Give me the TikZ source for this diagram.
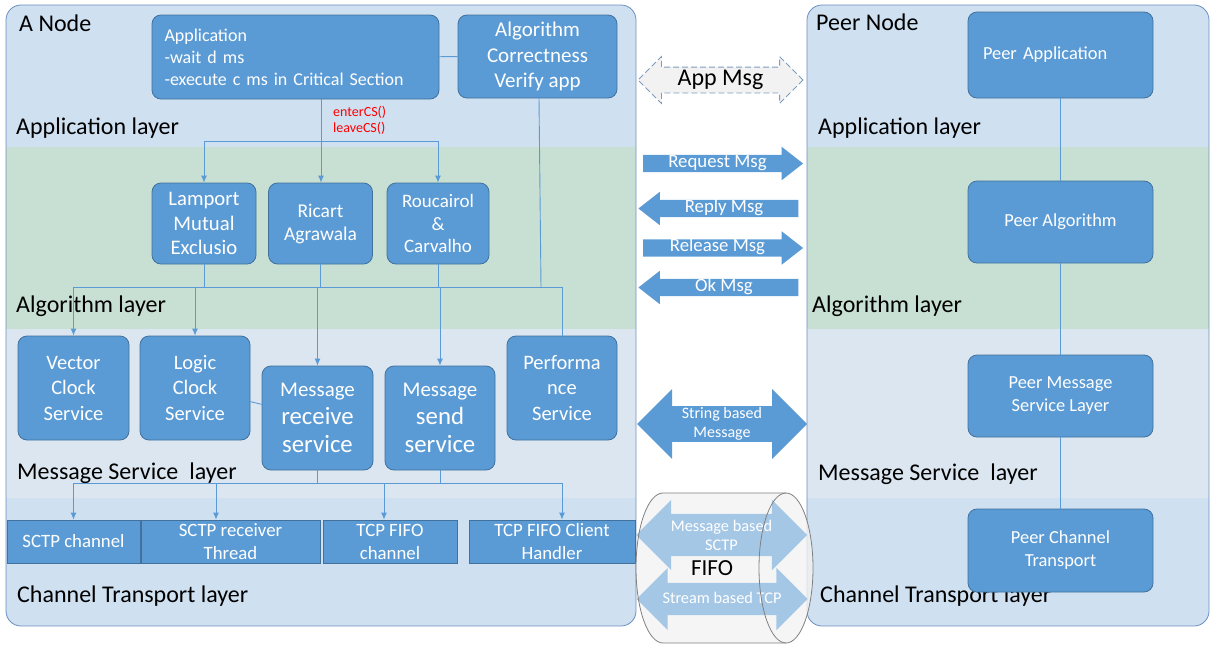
\documentclass[tikz,border=0pt]{standalone}
\usepackage{fontspec}
\setmainfont{Carlito}
\usetikzlibrary{arrows.meta}
\usetikzlibrary{shapes.arrows}

\definecolor{boxblue}{HTML}{5B9BD5}
\definecolor{boxline}{HTML}{41719C}
\definecolor{nodeline}{HTML}{6B8FC0}
\definecolor{bandapp}{HTML}{CFE0F1}
\definecolor{bandalg}{HTML}{C8E0D3}
\definecolor{bandmsg}{HTML}{DCE6F0}
\definecolor{paleblue}{HTML}{9DC3E6}
\definecolor{appgrey}{HTML}{F2F2F2}
\definecolor{dashblue}{HTML}{7F9CC0}
\definecolor{canline}{HTML}{808080}
\newcommand\fs[2]{\fontsize{#1}{#2}\selectfont}

\tikzset{
  box/.style={draw=boxline,fill=boxblue,rounded corners=9pt,text=white,align=center,inner sep=0pt,line width=0.8pt},
  chan/.style={draw=boxline,fill=boxblue,text=white,align=center,inner sep=0pt,line width=0.8pt,font=\fs{18.8}{23}},
  link/.style={draw=boxblue,line width=0.9pt},
  feed/.style={link,-{Latex[length=7pt,width=6pt]}},
  layer/.style={anchor=west,inner sep=0pt,font=\fs{24}{28}},
  msgarrow/.style={single arrow,fill=boxblue,text=white,font=\fs{18.8}{22},text height=10pt,text depth=3pt,
    inner ysep=2pt,inner xsep=0pt,single arrow head extend=8pt,single arrow tip angle=76,
    minimum height=160pt,minimum width=33pt},
  pipe/.style={double arrow,fill=paleblue,fill opacity=0.9,text opacity=1,text=white,align=center,
    inner xsep=0pt,double arrow tip angle=90,font=\fs{16.3}{19}},
}

\begin{document}
\begin{tikzpicture}[x=1pt,y=-1pt]
\useasboundingbox (0,0) rectangle (1210,645);
% layer bands of both nodes
\foreach \xa/\xb in {6/636,807/1209}{
  \begin{scope}
    \clip[rounded corners=15pt] (\xa,5) rectangle (\xb,626);
    \fill[bandapp] (\xa,5) rectangle (\xb,147);
    \fill[bandalg] (\xa,147) rectangle (\xb,329);
    \fill[bandmsg] (\xa,329) rectangle (\xb,498);
    \fill[bandapp] (\xa,498) rectangle (\xb,626);
  \end{scope}
  \draw[nodeline,line width=0.8pt,rounded corners=15pt] (\xa,5) rectangle (\xb,626);
}

\node[layer] (anode) at (19,23) {A Node};
\node[layer] (applayer) at (16,128) {Application layer};
\node[layer] (alglayer) at (16,306) {Algorithm layer};
\node[layer] (msglayer) at (17,473) {Message Service\ \ layer};
\node[layer] (chlayer) at (17,596) {Channel Transport layer};

\node[layer] (peernode) at (816,22) {Peer Node};
\node[layer] (papplayer) at (818,128) {Application layer};
\node[layer] (palglayer) at (812,306) {Algorithm layer};
\node[layer] (pmsglayer) at (818,474) {Message Service\ \ layer};
\node[layer] (pchlayer) at (820,596) {Channel Transport layer};

% A Node
\node[box,minimum width=287pt,minimum height=84pt,text width=262pt,align=left,font=\fs{18}{22}] (app) at (295.5,57)
  {Application\\-wait d ms\\-execute c ms in Critical Section};
\node[box,minimum width=159pt,minimum height=83pt,font=\fs{21}{25.5}] (verify) at (537.5,56.5)
  {Algorithm\\Correctness\\Verify app};
\node[anchor=west,inner sep=0pt,text=red,align=left,font=\fs{14}{16}] (cs) at (333,120) {enterCS()\\leaveCS()};

\node[box,minimum width=104pt,minimum height=81pt,font=\fs{20.7}{24.5}] (lamport) at (204,223.5) {Lamport\\Mutual\\Exclusio};
\node[box,minimum width=104pt,minimum height=81pt,font=\fs{19.5}{23}] (ricart) at (320.5,223.5) {Ricart\\Agrawala};
\node[box,minimum width=102pt,minimum height=81pt,font=\fs{19}{22.5}] (roucairol) at (438,223.5) {Roucairol\\\&\\Carvalho};

\node[box,minimum width=111pt,minimum height=104pt,font=\fs{20.5}{25.5}] (vector) at (73.5,388) {Vector\\Clock\\Service};
\node[box,minimum width=110pt,minimum height=104pt,font=\fs{20.5}{25.5}] (logic) at (195,388) {Logic\\Clock\\Service};
\node[box,minimum width=111pt,minimum height=104pt,font=\fs{24.8}{28}] (receive) at (317.5,418) {{\fs{20.9}{22}Message}\\receive\\service};
\node[box,minimum width=110pt,minimum height=104pt,font=\fs{24.8}{28}] (send) at (440,418) {{\fs{20.9}{22}Message}\\send\\service};
\node[box,minimum width=110pt,minimum height=104pt,font=\fs{20.5}{25.5}] (perf) at (562,388) {Performa\\nce\\Service};

\node[chan,minimum width=133pt,minimum height=43pt] (sctp) at (73.5,541.5) {SCTP channel};
\node[chan,minimum width=179pt,minimum height=43pt] (sctprecv) at (230.5,541.5) {SCTP receiver\\Thread};
\node[chan,minimum width=134pt,minimum height=43pt] (tcpfifo) at (390,541.5) {TCP FIFO\\channel};
\node[chan,minimum width=166pt,minimum height=43pt] (client) at (552,541.5) {TCP FIFO Client\\Handler};

% connectors
\coordinate (split) at (321,141);
\coordinate (bus) at (0,287);
\coordinate (lowbus) at (0,483);
\coordinate (drop2) at (216,483);
\coordinate (drop3) at (384,483);
\draw[link] (app) -- (verify);
\draw[link] (app.south -| split) -- (split);
\draw[link] (lamport.north |- split) -- (roucairol.north |- split);
\draw[feed] (lamport.north |- split) -- (lamport);
\draw[feed] (split) -- (split |- ricart.north);
\draw[feed] (roucairol.north |- split) -- (roucairol);

\draw[link] (lamport) -- (lamport |- bus);
\draw[link] (ricart) -- (ricart |- bus);
\draw[link] (roucairol) -- (roucairol |- bus);
\draw[link] (verify.south -| 539,0) -- (541,287);
\draw[link] (vector |- bus) -- (perf |- bus);
\draw[feed] (vector |- bus) -- (vector);
\draw[feed] (logic |- bus) -- (logic);
\draw[feed] (receive |- bus) -- (receive);
\draw[feed] (send |- bus) -- (send);
\draw[link] (perf |- bus) -- (perf);
\draw[link] (logic) -- (receive);

\draw[link] (receive) -- (receive |- lowbus);
\draw[link] (send) -- (send |- lowbus);
\draw[link] (vector |- lowbus) -- (perf |- lowbus);
\draw[feed] (vector |- lowbus) -- (sctp);
\draw[feed] (drop2) -- (drop2 |- sctprecv.north);
\draw[feed] (drop3) -- (drop3 |- tcpfifo.north);
\draw[feed] (perf |- lowbus) -- (perf |- client.north);

% Peer Node
\node[box,minimum width=185pt,minimum height=86pt,text width=155pt,align=left,font=\fs{18.4}{22}] (papp) at (1060.5,55) {Peer Application};
\node[box,minimum width=185pt,minimum height=82pt,font=\fs{18.4}{23}] (palg) at (1060.5,222) {Peer Algorithm};
\node[box,minimum width=185pt,minimum height=82pt,font=\fs{18.4}{23}] (pmsg) at (1060.5,396) {Peer Message\\Service Layer};
\node[box,minimum width=185pt,minimum height=83pt,font=\fs{18.4}{23}] (pchan) at (1060.5,550.5) {Peer Channel\\Transport};
\draw[link] (papp) -- (palg) -- (pmsg) -- (pchan);

% messages between the nodes
\node[double arrow,fill=appgrey,draw=dashblue,dash pattern=on 6pt off 3pt,line width=0.8pt,text=black,font=\fs{24}{28},
  text height=16pt,text depth=5pt,inner ysep=2pt,inner xsep=0pt,double arrow head extend=10.5pt,
  double arrow tip angle=90,minimum height=165pt,minimum width=46pt] (appmsg) at (720.5,80) {App Msg};
\node[msgarrow] (request) at (717.5,163.5) {Request Msg};
\node[msgarrow,shape border rotate=180] (reply) at (724,208.5) {Reply Msg};
\node[msgarrow] (release) at (717.5,248) {Release Msg};
\node[msgarrow,shape border rotate=180] (okmsg) at (724,287.5) {Ok Msg};
\node[double arrow,fill=boxblue,text=white,align=center,font=\fs{16}{18.5},inner ysep=1.4pt,inner xsep=0pt,
  double arrow head extend=17pt,double arrow tip angle=90,minimum height=170pt,minimum width=70pt] (strmsg) at (722,424)
  {String based\\Message};

% the FIFO pipe
\fill[appgrey,opacity=0.8] (786,493) -- (663,493) arc[start angle=270,end angle=90,x radius=27,y radius=75]
  -- (786,643) arc[start angle=90,end angle=-90,x radius=27,y radius=75] -- cycle;
\node[pipe,inner ysep=5.6pt,double arrow head extend=14pt,minimum height=171pt,minimum width=70pt] (sctpmsg) at (721.5,535)
  {Message based\\SCTP};
\node[pipe,text height=11pt,text depth=3pt,inner ysep=9pt,double arrow head extend=15pt,minimum height=171pt,minimum width=62pt] (tcpmsg) at (722,599)
  {Stream based TCP};
\node[font=\fs{23}{26}] (fifo) at (712,568) {FIFO};
\draw[canline,line width=0.8pt] (786,493) -- (663,493) arc[start angle=270,end angle=90,x radius=27,y radius=75] -- (786,643);
\draw[canline,line width=0.8pt] (786,568) ellipse[x radius=27,y radius=75];
\end{tikzpicture}
\end{document}
